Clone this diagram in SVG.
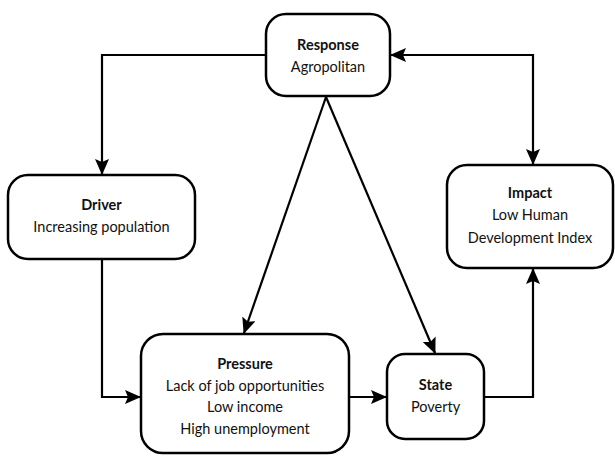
<svg xmlns="http://www.w3.org/2000/svg" width="615" height="456" viewBox="0 0 615 456">
<style>
.box{fill:#fff;stroke:#000;stroke-width:2.5}
.t{font-family:Lato,"Open Sans","Liberation Sans",sans-serif;font-size:14.5px;fill:#111;text-anchor:middle}
.b{font-weight:bold}
.c{fill:none;stroke:#000;stroke-width:2.2}
</style>
<defs>
<marker id="ah" markerUnits="userSpaceOnUse" markerWidth="16" markerHeight="14" viewBox="0 0 16 14" refX="15" refY="7" orient="auto-start-reverse">
<path d="M0,0 L16,7 L0,14 L3,7 z" fill="#000"/>
</marker>
</defs>
<g id="connectors">
<path class="c" d="M266,55 H102 V174" marker-end="url(#ah)"/>
<path class="c" d="M391,55 H533 V164" marker-start="url(#ah)" marker-end="url(#ah)"/>
<path class="c" d="M326,97 L244,333" marker-end="url(#ah)"/>
<path class="c" d="M326,97 L435,353" marker-end="url(#ah)"/>
<path class="c" d="M102,259 V397 H140" marker-end="url(#ah)"/>
<path class="c" d="M349,397 H386" marker-end="url(#ah)"/>
<path class="c" d="M484,397 H533 V269" marker-end="url(#ah)"/>
</g>
<g id="response">
<rect class="box" x="266" y="14" width="124" height="82" rx="20"/>
<text class="t b" x="328" y="50">Response</text>
<text class="t" x="328" y="72">Agropolitan</text>
</g>
<g id="driver">
<rect class="box" x="8" y="175" width="187" height="84" rx="20"/>
<text class="t b" x="101.5" y="210">Driver</text>
<text class="t" x="101.5" y="232">Increasing population</text>
</g>
<g id="impact">
<rect class="box" x="447" y="165" width="166" height="103" rx="20"/>
<text class="t b" x="530" y="198">Impact</text>
<text class="t" x="530" y="220">Low Human</text>
<text class="t" x="530" y="243">Development Index</text>
</g>
<g id="pressure">
<rect class="box" x="141" y="334" width="208" height="119" rx="22"/>
<text class="t b" x="245" y="369">Pressure</text>
<text class="t" x="245" y="391">Lack of job opportunities</text>
<text class="t" x="245" y="412">Low income</text>
<text class="t" x="245" y="434">High unemployment</text>
</g>
<g id="state">
<rect class="box" x="387" y="354" width="97" height="85" rx="18"/>
<text class="t b" x="435.5" y="390">State</text>
<text class="t" x="435.5" y="412">Poverty</text>
</g>
</svg>
